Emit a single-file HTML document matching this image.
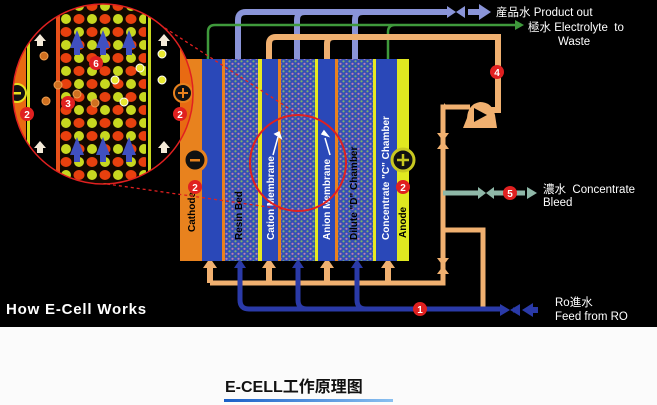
<!DOCTYPE html>
<html><head><meta charset="utf-8"><style>
html,body{margin:0;padding:0;background:#fff}
svg{display:block}
text{font-family:"Liberation Sans","Noto Sans CJK SC",sans-serif}
</style></head><body>
<svg width="657" height="405" viewBox="0 0 657 405" xmlns="http://www.w3.org/2000/svg">
<defs>
<pattern id="resin" width="6" height="5" patternUnits="userSpaceOnUse">
<rect width="6" height="5" fill="#3650b4"/>
<circle cx="1.5" cy="1.3" r="1.1" fill="#80b070"/>
<circle cx="4.5" cy="3.8" r="1.1" fill="#c080b0"/>
</pattern>
<pattern id="balls" x="60" y="0" width="26" height="26" patternUnits="userSpaceOnUse">
<rect width="26" height="26" fill="#120800"/>
<ellipse cx="6" cy="6" rx="5.5" ry="5" fill="#e8400e"/>
<ellipse cx="19" cy="6" rx="5" ry="5" fill="#c8d820"/>
<ellipse cx="6" cy="19" rx="5" ry="5" fill="#c8d820"/>
<ellipse cx="19" cy="19" rx="5.5" ry="5" fill="#e8400e"/>
</pattern>
<clipPath id="mag"><circle cx="103" cy="94" r="90"/></clipPath>
</defs>
<rect width="657" height="327" fill="#000"/>
<rect y="327" width="657" height="78" fill="#fbfbfb"/>

<g fill="none" stroke-linecap="butt">
<path d="M238 60 V20 Q238 12 246 12 H447 M297 60 V20 Q297 12 305 12 M355 60 V20 Q355 12 363 12" stroke="#8a94d8" stroke-width="6"/>
<path d="M208 60 V32 Q208 25 215 25 H515 M388 60 V32 Q388 25 395 25" stroke="#3f9a3c" stroke-width="2.5"/>
<path d="M269 62 V44 Q269 37 276 37 H498 V110 H490" stroke="#f0b070" stroke-width="6"/>
<path d="M327 62 V44 Q327 37 334 37" stroke="#f0b070" stroke-width="6"/>
<path d="M470 107 H443 V283 H210 M443 230 H483 V310" stroke="#f0b070" stroke-width="5"/>
<path d="M210 283 V268 M269 283 V268 M327 283 V268 M388 283 V268" stroke="#f0b070" stroke-width="6"/>
<path d="M240 264 V300 Q240 309 249 309 H500 M298 264 V300 Q298 309 307 309 M357 264 V300 Q357 309 366 309" stroke="#2a3aa8" stroke-width="5"/>
<path d="M513 310 H520" stroke="#2a3aa8" stroke-width="5"/>
<path d="M443 193 H483 M492 193 H525" stroke="#8fb8a8" stroke-width="5"/>
</g>
<g fill="#f0b070">
<path d="M203 268 L210 258 L217 268Z M262 268 L269 258 L276 268Z M320 268 L327 258 L334 268Z M381 268 L388 258 L395 268Z"/>
</g>
<g fill="#2a3aa8"><path d="M234 268 L240 259 L246 268Z M292 268 L298 259 L304 268Z M351 268 L357 259 L363 268Z"/>
<path d="M500 304 L510 310 L500 316Z M520 304 L510 310 L520 316Z"/>
<path d="M522 310 L533 303 V317Z"/><rect x="532" y="307" width="6" height="6"/></g>
<g fill="#8a94d8"><path d="M447 6 L456 12 L447 18Z M465 6 L456 12 L465 18Z"/><rect x="468" y="9" width="12" height="6"/><path d="M479 4 L491 12 L479 20Z"/></g>
<path d="M515 20 L524 25 L515 30Z" fill="#3f9a3c"/>
<g fill="#f0b070"><path d="M437 133 L443 141 L449 133Z M437 149 L443 141 L449 149Z M437 258 L443 266 L449 258Z M437 274 L443 266 L449 274Z"/>
<path d="M463 128 L467 118 Q468 104 480 102 Q492 102 495 115 L497 128Z"/><path d="M448 107 L444 103 L444 111Z"/></g>
<path d="M474 108 L487 115 L474 122Z" fill="#000"/>
<g fill="#8fb8a8"><path d="M478 187 L486 193 L478 199Z M494 187 L486 193 L494 199Z"/><path d="M527 187 L537 193 L527 199Z"/></g>

<rect x="180" y="59" width="22" height="202" fill="#e8821e"/>
<rect x="202" y="59" width="20" height="202" fill="#2a48b8"/>
<rect x="222" y="59" width="3" height="202" fill="#e8821e"/>
<rect x="225" y="59" width="33" height="202" fill="url(#resin)"/>
<rect x="258" y="59" width="4" height="202" fill="#e8e820"/>
<rect x="262" y="59" width="16" height="202" fill="#2a48b8"/>
<rect x="278" y="59" width="3" height="202" fill="#e8821e"/>
<rect x="281" y="59" width="34" height="202" fill="url(#resin)"/>
<rect x="315" y="59" width="3" height="202" fill="#e8e820"/>
<rect x="318" y="59" width="17" height="202" fill="#2a48b8"/>
<rect x="335" y="59" width="3" height="202" fill="#e8821e"/>
<rect x="338" y="59" width="35" height="202" fill="url(#resin)"/>
<rect x="373" y="59" width="3" height="202" fill="#e8e820"/>
<rect x="376" y="59" width="21" height="202" fill="#2a48b8"/>
<rect x="397" y="59" width="12" height="202" fill="#e0e820"/>

<g font-size="10" font-weight="bold">
<text transform="translate(195,232) rotate(-90)" fill="#000">Cathode</text>
<text transform="translate(242,240) rotate(-90)" fill="#000">Resin Bed</text>
<text transform="translate(274,240) rotate(-90)" fill="#fff">Cation Membrane</text>
<text transform="translate(330,240) rotate(-90)" fill="#fff">Anion Membrane</text>
<text transform="translate(357,240) rotate(-90)" fill="#000">Dilute "D" Chamber</text>
<text transform="translate(389,240) rotate(-90)" fill="#fff">Concentrate "C" Chamber</text>
<text transform="translate(406,238) rotate(-90)" fill="#000">Anode</text>
</g>
<g stroke="#fff" stroke-width="1.5" fill="#fff"><path d="M273 155 L278 137"/><path d="M275 134 L281 138 L279 132Z"/><path d="M330 155 L325 138"/><path d="M322 134 L328 136 L324 131Z"/></g>
<circle cx="195" cy="160" r="11" fill="#111" stroke="#e8821e" stroke-width="3"/><rect x="190" y="159" width="10" height="2.5" fill="#e8821e"/>
<circle cx="403" cy="160" r="11" fill="#111" stroke="#c8c820" stroke-width="3"/><path d="M397 160 H409 M403 154 V166" stroke="#c8c820" stroke-width="2.5"/>

<circle cx="298" cy="163" r="48" fill="none" stroke="#e02020" stroke-width="2"/>
<path d="M165 28 L296 113 M107 184 L296 211" stroke="#e02020" stroke-width="1.3" stroke-dasharray="3,3" fill="none"/>
<g clip-path="url(#mag)">
<rect x="0" y="0" width="200" height="190" fill="#000"/>
<rect x="12" y="0" width="14" height="190" fill="#e86a12"/>
<rect x="27" y="0" width="3" height="190" fill="#d8e020"/>
<rect x="56" y="0" width="4" height="190" fill="#e8501a"/>
<rect x="60" y="0" width="86" height="190" fill="url(#balls)"/>
<rect x="148" y="0" width="3" height="190" fill="#c8d820"/>
<rect x="180" y="0" width="16" height="190" fill="#e86a12"/>
<g fill="#4050c0"><path d="M70 48 L77 30 L84 48 L80 48 L80 55 L74 55 L74 48Z M96 48 L103 30 L110 48 L106 48 L106 55 L100 55 L100 48Z M122 48 L129 30 L136 48 L132 48 L132 55 L126 55 L126 48Z"/>
<path d="M70 155 L77 137 L84 155 L80 155 L80 162 L74 162 L74 155Z M96 155 L103 137 L110 155 L106 155 L106 162 L100 162 L100 155Z M122 155 L129 137 L136 155 L132 155 L132 162 L126 162 L126 155Z"/></g>
<g fill="#f4ead8"><path d="M34 41 L40 34 L46 41 L43 41 L43 46 L37 46 L37 41Z M158 41 L164 34 L170 41 L167 41 L167 46 L161 46 L161 41Z M34 148 L40 141 L46 148 L43 148 L43 153 L37 153 L37 148Z M158 148 L164 141 L170 148 L167 148 L167 153 L161 153 L161 148Z"/></g>
<g fill="#d07020" stroke="#f0a050"><circle cx="44" cy="56" r="4"/><circle cx="46" cy="101" r="4"/><circle cx="58" cy="85" r="4"/><circle cx="77" cy="94" r="4"/><circle cx="95" cy="103" r="4"/></g>
<g fill="#e8e830" stroke="#fff"><circle cx="162" cy="54" r="4"/><circle cx="162" cy="80" r="4"/><circle cx="140" cy="68" r="4"/><circle cx="115" cy="80" r="4"/><circle cx="124" cy="102" r="4"/></g>
<circle cx="17" cy="93" r="9" fill="#111" stroke="#e8e020" stroke-width="2"/><rect x="13" y="92" width="8" height="2.5" fill="#e8e020"/>
<circle cx="183" cy="93" r="9" fill="#111" stroke="#e8821e" stroke-width="2"/><path d="M178 93 H188 M183 88 V98" stroke="#e8821e" stroke-width="2"/>
</g>
<circle cx="103" cy="94" r="90" fill="none" stroke="#e02020" stroke-width="1.5"/>

<g font-size="10" font-weight="bold" fill="#fff" text-anchor="middle">
<circle cx="27" cy="114" r="7" fill="#e02020"/><text x="27" y="118">2</text>
<circle cx="180" cy="114" r="7" fill="#e02020"/><text x="180" y="118">2</text>
<circle cx="68" cy="103" r="7" fill="#e02020"/><text x="68" y="107">3</text>
<circle cx="96" cy="63" r="7" fill="#e02020"/><text x="96" y="67">6</text>
<circle cx="195" cy="187" r="7" fill="#e02020"/><text x="195" y="191">2</text>
<circle cx="403" cy="187" r="7" fill="#e02020"/><text x="403" y="191">2</text>
<circle cx="497" cy="72" r="7" fill="#e02020"/><text x="497" y="76">4</text>
<circle cx="510" cy="193" r="7" fill="#e02020"/><text x="510" y="197">5</text>
<circle cx="420" cy="309" r="7" fill="#e02020"/><text x="420" y="313">1</text>
</g>

<g fill="#fff" font-size="11.5">
<text x="496" y="16">産品水 Product out</text>
<text x="528" y="31">極水 Electrolyte&#160; to</text>
<text x="558" y="45">Waste</text>
<text x="543" y="193">濃水&#160; Concentrate</text>
<text x="543" y="206">Bleed</text>
<text x="555" y="306">Ro進水</text>
<text x="555" y="320">Feed from RO</text>
</g>
<text x="6" y="314" fill="#fff" font-size="15" font-weight="bold" letter-spacing="0.8">How E-Cell Works</text>

<text x="225" y="392" fill="#111" font-size="16" font-weight="bold">E-CELL工作原理图</text>
<defs><linearGradient id="ul" x1="0" x2="1"><stop offset="0" stop-color="#1a60c8"/><stop offset="1" stop-color="#8ac0f0"/></linearGradient></defs>
<rect x="224" y="399" width="169" height="3" fill="url(#ul)"/>
</svg>
</body></html>
